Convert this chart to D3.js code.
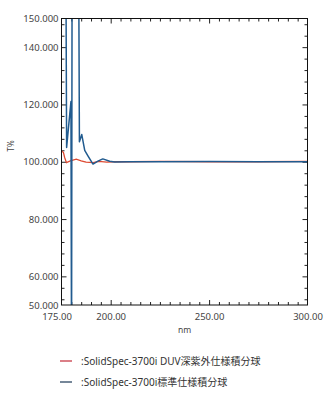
<!DOCTYPE html>
<html>
<head>
<meta charset="utf-8">
<script src="https://cdn.jsdelivr.net/npm/d3@7"></script>
<style>
  body { margin: 0; background: #fff; }
  text { font-family: "Noto Sans", "Noto Sans CJK JP", sans-serif; }
</style>
</head>
<body>
<div id="chart"></div>
<script>
// wavelength (nm) / T%
var duvNm = [175, 176, 176.6, 177.5, 179.5, 182.5, 185, 187.5, 191, 194, 198, 202, 210, 225, 250, 275, 300];
var duvValues = [103.8, 103.2, 101.5, 99.7, 100.3, 100.9, 100.3, 99.9, 99.7, 100.1, 99.9, 100.0, 100.0, 100.1, 100.0, 100.0, 100.1];

var stdNm = [175, 177.2, 177.6, 179.8, 180.1, 180.4, 183.7, 184.1, 185.3, 186.8, 188.5, 191.0, 193.5, 196.0, 199.5, 202, 210, 225, 250, 275, 300];
var stdValues = [175, 175, 105, 121, 30, 175, 175, 107, 109.5, 104, 102, 99.2, 100.2, 101.0, 100.2, 99.9, 100.0, 100.0, 100.1, 100.0, 100.0];

var seriesNames = [":SolidSpec-3700i DUV深紫外仕様積分球", ":SolidSpec-3700i標準仕様積分球"];

var xLabelTicks = [175, 200, 250, 300];
var yLabelTicks = [50, 60, 80, 100, 120, 140, 150];

var svgWidth = 332;
var svgHeight = 398;

var plot = { left: 61.5, top: 18.5, right: 307.5, bottom: 305 };

var svg = d3.select("#chart")
  .append("svg")
  .attr("width", svgWidth)
  .attr("height", svgHeight);

var xScale = d3.scaleLinear()
  .domain([175, 300])
  .range([plot.left, plot.right]);

var yScale = d3.scaleLinear()
  .domain([50, 150])
  .range([plot.bottom, plot.top]);

var xMajor = [200, 250];
var xMinor = d3.range(180, 300, 5).filter(d => xMajor.indexOf(d) < 0);
var yMajor = [60, 80, 100, 120, 140];
var yMinor = d3.range(52, 150, 4).filter(d => yMajor.indexOf(d) < 0);

function tickGroup(axis, transform) {
  var g = svg.append("g")
    .attr("transform", transform)
    .call(axis);
  g.select(".domain").remove();
  g.selectAll("line").attr("stroke", "#222");
  return g;
}

// inward ticks on all four sides
tickGroup(d3.axisBottom(xScale).tickValues(xMajor).tickSize(-5).tickFormat(""), `translate(0,${plot.bottom})`);
tickGroup(d3.axisBottom(xScale).tickValues(xMinor).tickSize(-3).tickFormat(""), `translate(0,${plot.bottom})`);
tickGroup(d3.axisTop(xScale).tickValues(xMajor).tickSize(-5).tickFormat(""), `translate(0,${plot.top})`);
tickGroup(d3.axisTop(xScale).tickValues(xMinor).tickSize(-3).tickFormat(""), `translate(0,${plot.top})`);
tickGroup(d3.axisLeft(yScale).tickValues(yMajor).tickSize(-5).tickFormat(""), `translate(${plot.left},0)`);
tickGroup(d3.axisLeft(yScale).tickValues(yMinor).tickSize(-3).tickFormat(""), `translate(${plot.left},0)`);
tickGroup(d3.axisRight(yScale).tickValues(yMajor).tickSize(-5).tickFormat(""), `translate(${plot.right},0)`);
tickGroup(d3.axisRight(yScale).tickValues(yMinor).tickSize(-3).tickFormat(""), `translate(${plot.right},0)`);

// tick labels
var xLab = svg.append("g")
  .attr("transform", `translate(0,${plot.bottom})`)
  .call(d3.axisBottom(xScale).tickValues(xLabelTicks).tickSize(0).tickPadding(8).tickFormat(d3.format(".2f")));
xLab.select(".domain").remove();
xLab.selectAll("text")
  .attr("font-size", "9.5px")
  .attr("fill", "#444")
  .attr("dx", d => d === 175 ? -5 : 0);

var yLab = svg.append("g")
  .attr("transform", `translate(${plot.left},0)`)
  .call(d3.axisLeft(yScale).tickValues(yLabelTicks).tickSize(0).tickPadding(3).tickFormat(d3.format(".3f")));
yLab.select(".domain").remove();
yLab.selectAll("text")
  .attr("font-size", "9.5px")
  .attr("fill", "#444");

// axis titles
svg.append("text")
  .attr("x", (plot.left + plot.right) / 2)
  .attr("y", 333)
  .attr("text-anchor", "middle")
  .attr("font-size", "8.5px")
  .attr("fill", "#444")
  .text("nm");

svg.append("text")
  .attr("transform", "translate(14,146) rotate(-90)")
  .attr("text-anchor", "middle")
  .attr("font-size", "8px")
  .attr("fill", "#444")
  .text("T%");

svg.append("clipPath")
  .attr("id", "plotClip")
  .append("rect")
  .attr("x", plot.left)
  .attr("y", plot.top)
  .attr("width", plot.right - plot.left)
  .attr("height", plot.bottom - plot.top);

var line = d3.line()
  .x(d => xScale(d[0]))
  .y(d => yScale(d[1]));

var duvData = d3.zip(duvNm, duvValues);
var stdData = d3.zip(stdNm, stdValues);

svg.append("path")
  .datum(duvData)
  .attr("clip-path", "url(#plotClip)")
  .attr("fill", "none")
  .attr("stroke", "#dd4a32")
  .attr("stroke-width", 1.3)
  .attr("d", line);

svg.append("path")
  .datum(stdData)
  .attr("clip-path", "url(#plotClip)")
  .attr("fill", "none")
  .attr("stroke", "#215b8f")
  .attr("stroke-width", 1.5)
  .attr("stroke-linejoin", "round")
  .attr("d", line);

// frame
svg.append("rect")
  .attr("x", plot.left)
  .attr("y", plot.top)
  .attr("width", plot.right - plot.left)
  .attr("height", plot.bottom - plot.top)
  .attr("fill", "none")
  .attr("stroke", "#111")
  .attr("stroke-width", 1);

// legend
var legendColors = ["#c42a38", "#1c3756"];
var legend = svg.selectAll(".legend")
  .data(seriesNames)
  .enter().append("g")
  .attr("class", "legend")
  .attr("transform", (d, i) => `translate(60,${361 + i * 21})`);

legend.append("line")
  .attr("x1", 0)
  .attr("x2", 12)
  .attr("stroke", (d, i) => legendColors[i])
  .attr("stroke-width", 1.2);

legend.append("text")
  .attr("x", 21)
  .attr("dy", "0.35em")
  .attr("font-size", "10px")
  .attr("fill", "#333")
  .text(d => d);
</script>
</body>
</html>
